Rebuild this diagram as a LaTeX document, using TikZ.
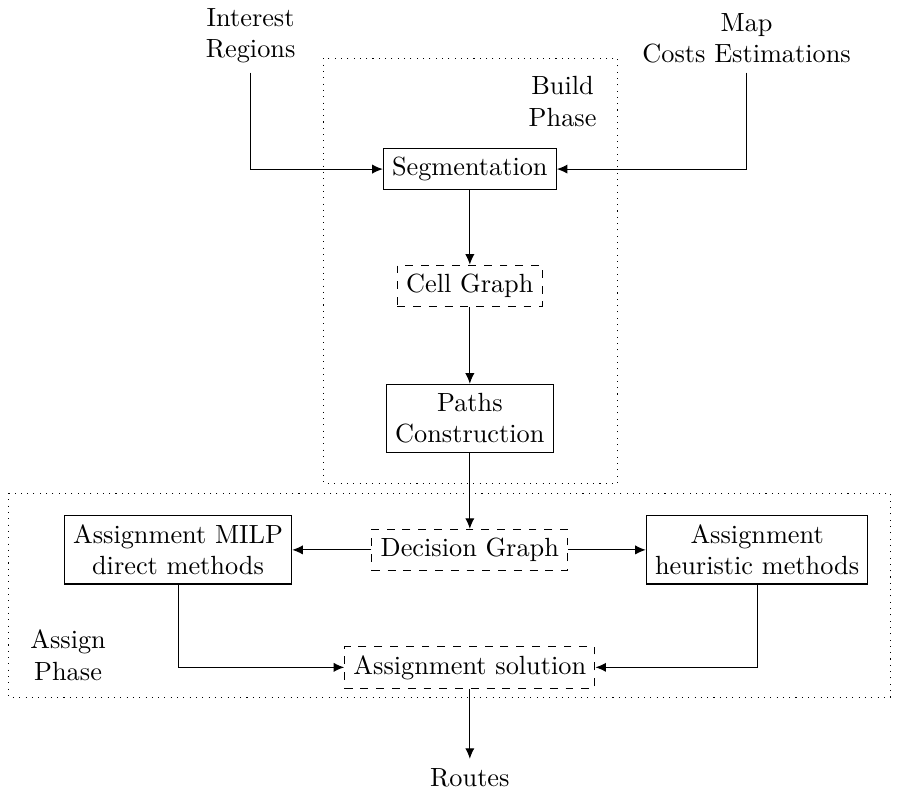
\documentclass[tikz,border=0pt]{standalone}
\usetikzlibrary{arrows.meta,positioning}

\begin{document}
\begin{tikzpicture}[
    arr/.style={-{Latex[length=4pt,width=3.5pt]}},
    block/.style={draw, align=center},
    data/.style={draw, dashed, align=center},
    phase/.style={draw, dotted},
  ]
  \useasboundingbox (-6.28,2.26) rectangle (5.71,-8.41);

  % Build phase
  \node[block] (seg) at (0,0) {Segmentation};
  \node[data] (cell) at (0,-1.56) {Cell Graph};
  \node[block] (paths) at (0,-3.33) {Paths\\Construction};

  % Inputs
  \node[align=center, anchor=south] (regions) at (-2.93,1.29)
    {Interest\\Regions};
  \node[align=center, anchor=south] (costs) at (3.70,1.29)
    {Map\\Costs Estimations};

  % Assign phase
  \node[data] (dec) at (0,-5.09) {Decision Graph};
  \node[block] (milp) at (-3.90,-5.09) {Assignment MILP\\direct methods};
  \node[block] (heur) at (3.84,-5.09) {Assignment\\heuristic methods};
  \node[data] (sol) at (0,-6.66) {Assignment solution};
  \node (routes) at (0,-8.13) {Routes};

  % Phase frames
  \draw[phase] (-1.95,1.48) rectangle (1.98,-4.20);
  \node[align=center] (buildlbl) at (1.24,0.90) {Build\\Phase};
  \draw[phase] (-6.16,-4.33) rectangle (5.62,-7.06);
  \node[align=center] (assignlbl) at (-5.37,-6.50) {Assign\\Phase};

  % Connections
  \draw[arr] (regions) |- (seg);
  \draw[arr] (costs) |- (seg);
  \draw[arr] (seg) -- (cell);
  \draw[arr] (cell) -- (paths);
  \draw[arr] (paths) -- (dec);
  \draw[arr] (dec) -- (milp);
  \draw[arr] (dec) -- (heur);
  \draw[arr] (milp) |- (sol);
  \draw[arr] (heur) |- (sol);
  \draw[arr] (sol) -- (routes);

\end{tikzpicture}
\end{document}
